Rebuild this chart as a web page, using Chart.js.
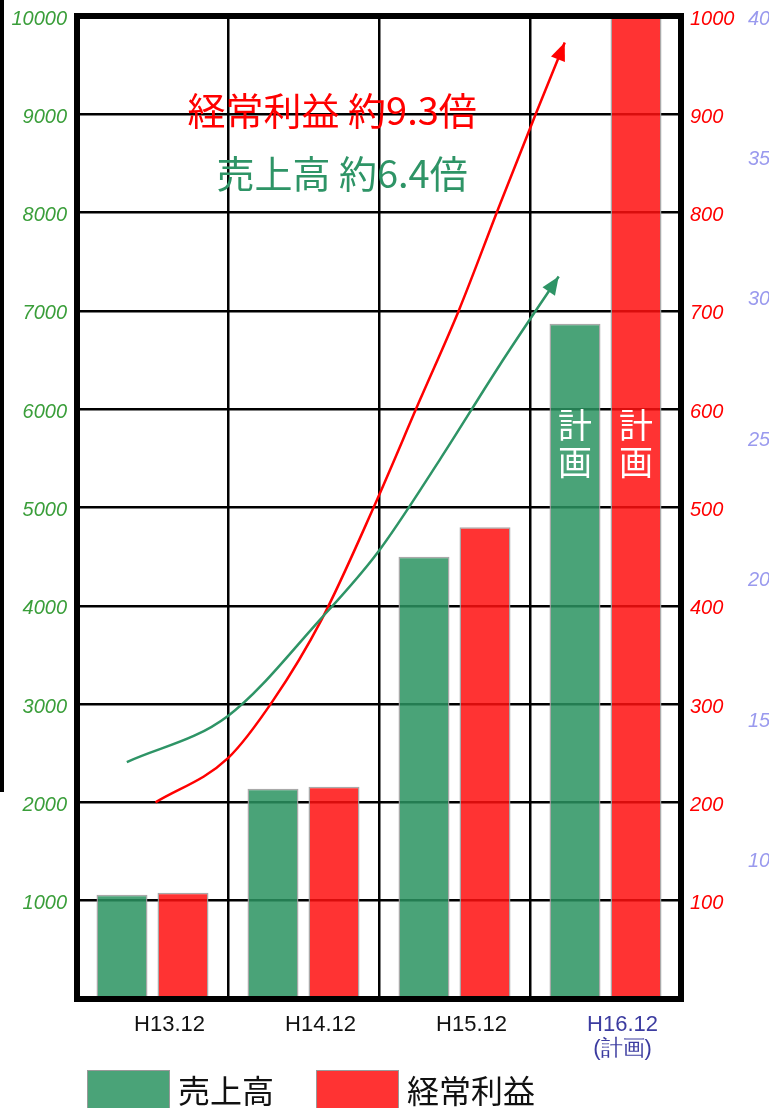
<!DOCTYPE html>
<html>
<head>
<meta charset="utf-8">
<script src="https://cdn.jsdelivr.net/npm/chart.js@4.4.0/dist/chart.umd.min.js"></script>
<style>
  body { margin: 0; background: #fff; overflow: hidden; }
  #wrap { position: relative; width: 800px; height: 1108px; }
  .edge { position: absolute; left: 0; top: 0; width: 4px; height: 792px; background: #000; }
  .item { position: absolute; top: 1070px; display: flex; font-family: "Noto Sans CJK JP", sans-serif; font-size: 32px; line-height: 38px; color: #111; }
  .item .box { width: 81px; height: 40px; border: 1px solid #999; margin-right: 8px; }
</style>
</head>
<body>
<div id="wrap">
  <canvas id="chart" width="800" height="1108"></canvas>
  <div class="edge"></div>
  <div class="item" style="left:87px"><div class="box" style="background:#4aa378"></div>売上高</div>
  <div class="item" style="left:316px"><div class="box" style="background:#ff3333"></div>経常利益</div>
</div>
<script>
// values
const categories = ["H13.12", "H14.12", "H15.12", ["H16.12", "(計画)"]];
const salesValues = [1060, 2140, 4500, 6870];   // left axis
const profitValues = [108, 216, 480, 1000];     // right axis

// axis ranges
const salesAxis = [0, 10000, 1000];
const profitAxis = [0, 1000, 100];
const thirdAxis = [5, 40, 5];

// growth arrows (x = category position, y = left axis value)
const salesCurveX = [-0.17, 0.5, 1.11, 1.49, 1.90, 2.30, 2.69];
const salesCurveY = [2410, 2880, 3860, 4540, 5480, 6450, 7350];
const profitCurveX = [0.02, 0.5, 0.80, 1.12, 1.47, 1.77, 2.03, 2.30, 2.54, 2.73];
const profitCurveY = [2000, 2450, 3040, 3860, 5020, 6090, 7010, 8080, 9010, 9730];

const GREEN = "rgba(42,147,96,0.85)";
const RED = "rgba(255,15,15,0.85)";
const LINE_GREEN = "#2e9466";
const LINE_RED = "#ff0000";

const frame = {
  id: "frame",
  afterDatasetsDraw(chart) {
    const { ctx, chartArea: a, scales } = chart;
    ctx.save();

    // arrow heads at the end of each curve
    [2, 3].forEach((i) => {
      const pts = chart.getDatasetMeta(i).data;
      const p = pts[pts.length - 1];
      const q = pts[pts.length - 2];
      const fx = p.cp1x !== undefined ? p.cp1x : q.x;
      const fy = p.cp1y !== undefined ? p.cp1y : q.y;
      const ang = Math.atan2(p.y - fy, p.x - fx);
      ctx.fillStyle = chart.data.datasets[i].borderColor;
      ctx.beginPath();
      ctx.moveTo(p.x, p.y);
      ctx.lineTo(p.x - 18 * Math.cos(ang) + 7.5 * Math.sin(ang), p.y - 18 * Math.sin(ang) - 7.5 * Math.cos(ang));
      ctx.lineTo(p.x - 18 * Math.cos(ang) - 7.5 * Math.sin(ang), p.y - 18 * Math.sin(ang) + 7.5 * Math.cos(ang));
      ctx.closePath();
      ctx.fill();
    });

    // 計画 inside the plan bars
    ctx.fillStyle = "#fff";
    ctx.font = '34px "Noto Sans CJK JP", sans-serif';
    ctx.textAlign = "center";
    ctx.textBaseline = "middle";
    [0, 1].forEach((i) => {
      const bar = chart.getDatasetMeta(i).data[3];
      ctx.fillText("計", bar.x, scales.y.getPixelForValue(5840));
      ctx.fillText("画", bar.x, scales.y.getPixelForValue(5460));
    });

    // growth captions
    ctx.font = '38px "Noto Sans CJK JP", sans-serif';
    ctx.fillStyle = LINE_RED;
    ctx.fillText("経常利益 約9.3倍", scales.x.getPixelForValue(1.19), scales.y.getPixelForValue(9040));
    ctx.fillStyle = LINE_GREEN;
    ctx.fillText("売上高 約6.4倍", scales.x.getPixelForValue(1.255), scales.y.getPixelForValue(8400));

    // heavy plot frame
    ctx.lineWidth = 6;
    ctx.strokeStyle = "#000";
    ctx.strokeRect(a.left, a.top, a.right - a.left, a.bottom - a.top);
    ctx.restore();
  }
};

const tickFont = { family: "Liberation Sans", size: 20, style: "italic" };
const noPad = (s) => { s.paddingTop = 0; s.paddingBottom = 0; };

const barStyle = {
  borderColor: "rgba(160,160,160,0.9)",
  borderWidth: 1.5,
  barPercentage: 0.836,
  categoryPercentage: 0.808
};

const curveStyle = {
  type: "line",
  yAxisID: "y",
  borderWidth: 2.5,
  pointRadius: 0,
  cubicInterpolationMode: "monotone",
  fill: false
};

new Chart(document.getElementById("chart"), {
  type: "bar",
  data: {
    datasets: [
      Object.assign({}, barStyle, {
        label: "売上高",
        data: salesValues.map((v, i) => ({ x: i, y: v })),
        yAxisID: "y",
        backgroundColor: GREEN
      }),
      Object.assign({}, barStyle, {
        label: "経常利益",
        data: profitValues.map((v, i) => ({ x: i, y: v })),
        yAxisID: "y2",
        backgroundColor: RED
      }),
      Object.assign({}, curveStyle, {
        label: "売上高 推移",
        data: salesCurveX.map((x, i) => ({ x: x, y: salesCurveY[i] })),
        borderColor: LINE_GREEN
      }),
      Object.assign({}, curveStyle, {
        label: "経常利益 推移",
        data: profitCurveX.map((x, i) => ({ x: x, y: profitCurveY[i] })),
        borderColor: LINE_RED
      })
    ]
  },
  options: {
    responsive: false,
    animation: false,
    layout: { padding: { top: 16, bottom: 43, left: 0, right: 0 } },
    plugins: { legend: { display: false }, tooltip: { enabled: false } },
    scales: {
      x: {
        type: "linear",
        min: -0.5,
        max: 3.5,
        offset: false,
        afterBuildTicks: (s) => { s.ticks = categories.map((c, i) => ({ value: i })); },
        grid: { color: "#000", lineWidth: 2.5, drawTicks: false, offset: true },
        border: { display: false },
        ticks: {
          padding: 14,
          labelOffset: 17,
          font: { family: "Liberation Sans Narrow, Liberation Sans", size: 22, lineHeight: 1.1 },
          color: (c) => (c.index === 3 ? "#3c3ca0" : "#111"),
          callback: (v, i) => categories[i]
        },
        afterFit: (s) => { s.height = 66; }
      },
      y: {
        position: "left",
        min: salesAxis[0],
        max: salesAxis[1],
        grid: { color: "#000", lineWidth: 2.5, drawTicks: false },
        border: { display: false },
        ticks: {
          stepSize: salesAxis[2],
          padding: 10,
          labelOffset: 3,
          font: tickFont,
          color: "#3a9e3a",
          callback: (v) => (v === 0 ? "" : v)
        },
        afterFit: (s) => { s.width = 77; noPad(s); }
      },
      y2: {
        position: "right",
        weight: 0,
        min: profitAxis[0],
        max: profitAxis[1],
        grid: { display: false, drawTicks: false },
        border: { display: false },
        ticks: {
          stepSize: profitAxis[2],
          padding: 9,
          labelOffset: 3,
          font: tickFont,
          color: "#ff0000",
          callback: (v) => (v === 0 ? "" : v)
        },
        afterFit: (s) => { s.width = 60; noPad(s); }
      },
      y3: {
        position: "right",
        weight: 1,
        min: thirdAxis[0],
        max: thirdAxis[1],
        grid: { display: false, drawTicks: false },
        border: { display: false },
        ticks: {
          stepSize: thirdAxis[2],
          padding: 7,
          labelOffset: 3,
          font: tickFont,
          color: "#9a9aee",
          callback: (v) => (v === 5 ? "" : v)
        },
        afterFit: (s) => { s.width = 59; noPad(s); }
      }
    }
  },
  plugins: [frame]
});
</script>
</body>
</html>
